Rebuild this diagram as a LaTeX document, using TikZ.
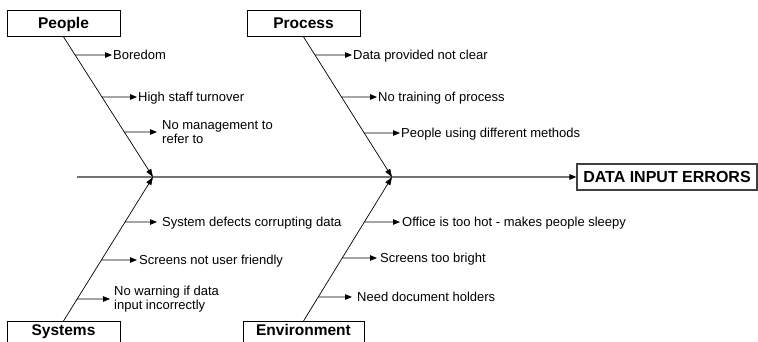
\documentclass[tikz,border=0pt]{standalone}
\usepackage{fontspec}
\setmainfont{Liberation Sans}
\usetikzlibrary{arrows.meta,calc}
\begin{document}
\begin{tikzpicture}[x=1pt,y=-1pt,
 catbox/.style={draw=black, line width=0.8pt, minimum width=113pt, inner xsep=0pt, inner ysep=0pt, font=\bfseries\fontsize{15.5}{18}\selectfont},
 topbox/.style={catbox, anchor=north, text height=18pt, text depth=8pt},
 botbox/.style={catbox, anchor=north, text height=14pt, text depth=12pt},
 lab/.style={anchor=west, inner xsep=1pt, inner ysep=0pt, font=\fontsize{13}{14}\selectfont, align=left},
 lab1/.style={anchor=west, inner xsep=1pt, inner ysep=0pt, font=\fontsize{13}{14}\selectfont, text height=9.3pt, text depth=0pt},
 br/.style={draw, line width=0.8pt, -{Triangle[length=7pt,width=5.5pt]}},
 bone/.style={draw, line width=0.7pt, -{Triangle[length=8pt,width=5.5pt]}},
 spine/.style={draw=black!55, line width=1.3pt, -{Triangle[length=7pt,width=5.5pt,color=black,fill=black]}}
]
\useasboundingbox (0,0) rectangle (758,341);
\clip (0,0) rectangle (758,341);
\fill[white] (0,0) rectangle (758,341);

% category boxes
\node[topbox] (P) at (63.5,10) {People};
\node[topbox] (R) at (303.5,10) {Process};
\node[botbox] (S) at (63.5,321) {Systems};
\node[botbox, minimum width=121pt] (E) at (303.5,321) {Environment};
\node[draw=black!75, line width=1.2pt, minimum width=180pt, minimum height=26pt, inner sep=0pt,
      font=\bfseries\fontsize{16}{18}\selectfont] (D) at (667,177) {DATA INPUT ERRORS};

% spine
\coordinate (s0) at (77,177);
\coordinate (J1) at (153,177);
\coordinate (J2) at (392,177);
\draw[spine] (s0) -- (D.west);

% bones
\draw[bone] (P.south) -- (J1);
\draw[bone] (R.south) -- (J2);
\draw[bone] (S.north) -- (J1);
\draw[bone] (E.north) -- (J2);

% labels
\node[lab1] (pa) at (112,55) {Boredom};
\node[lab1] (pb) at (137,97) {High staff turnover};
\node[lab, inner xsep=5pt] (pc) at (157,132) {No management to\\refer to};
\node[lab1] (ra) at (352,55) {Data provided not clear};
\node[lab1] (rb) at (377,97) {No training of process};
\node[lab1] (rc) at (400,133) {People using different methods};
\node[lab1, inner xsep=5pt] (sa) at (157,222) {System defects corrupting data};
\node[lab1, inner xsep=2pt] (sb) at (137,260) {Screens not user friendly};
\node[lab, inner xsep=4pt] (sc) at (110,299) {No warning if data\\input incorrectly};
\node[lab1, inner xsep=2pt] (ea) at (400,222) {Office is too hot - makes people sleepy};
\node[lab1, inner xsep=3pt] (eb) at (377,258) {Screens too bright};
\node[lab1, inner xsep=5pt] (ec) at (352,297) {Need document holders};

% branches
\draw[br] (intersection of P.south--J1 and pa.west--pa.east) -- (pa.west);
\draw[br] (intersection of P.south--J1 and pb.west--pb.east) -- (pb.west);
\draw[br] (intersection of P.south--J1 and pc.west--pc.east) -- (pc.west);
\draw[br] (intersection of R.south--J2 and ra.west--ra.east) -- (ra.west);
\draw[br] (intersection of R.south--J2 and rb.west--rb.east) -- (rb.west);
\draw[br] (intersection of R.south--J2 and rc.west--rc.east) -- (rc.west);
\draw[br] (intersection of S.north--J1 and sa.west--sa.east) -- (sa.west);
\draw[br] (intersection of S.north--J1 and sb.west--sb.east) -- (sb.west);
\draw[br] (intersection of S.north--J1 and sc.west--sc.east) -- (sc.west);
\draw[br] (intersection of E.north--J2 and ea.west--ea.east) -- (ea.west);
\draw[br] (intersection of E.north--J2 and eb.west--eb.east) -- (eb.west);
\draw[br] (intersection of E.north--J2 and ec.west--ec.east) -- (ec.west);
\end{tikzpicture}
\end{document}
